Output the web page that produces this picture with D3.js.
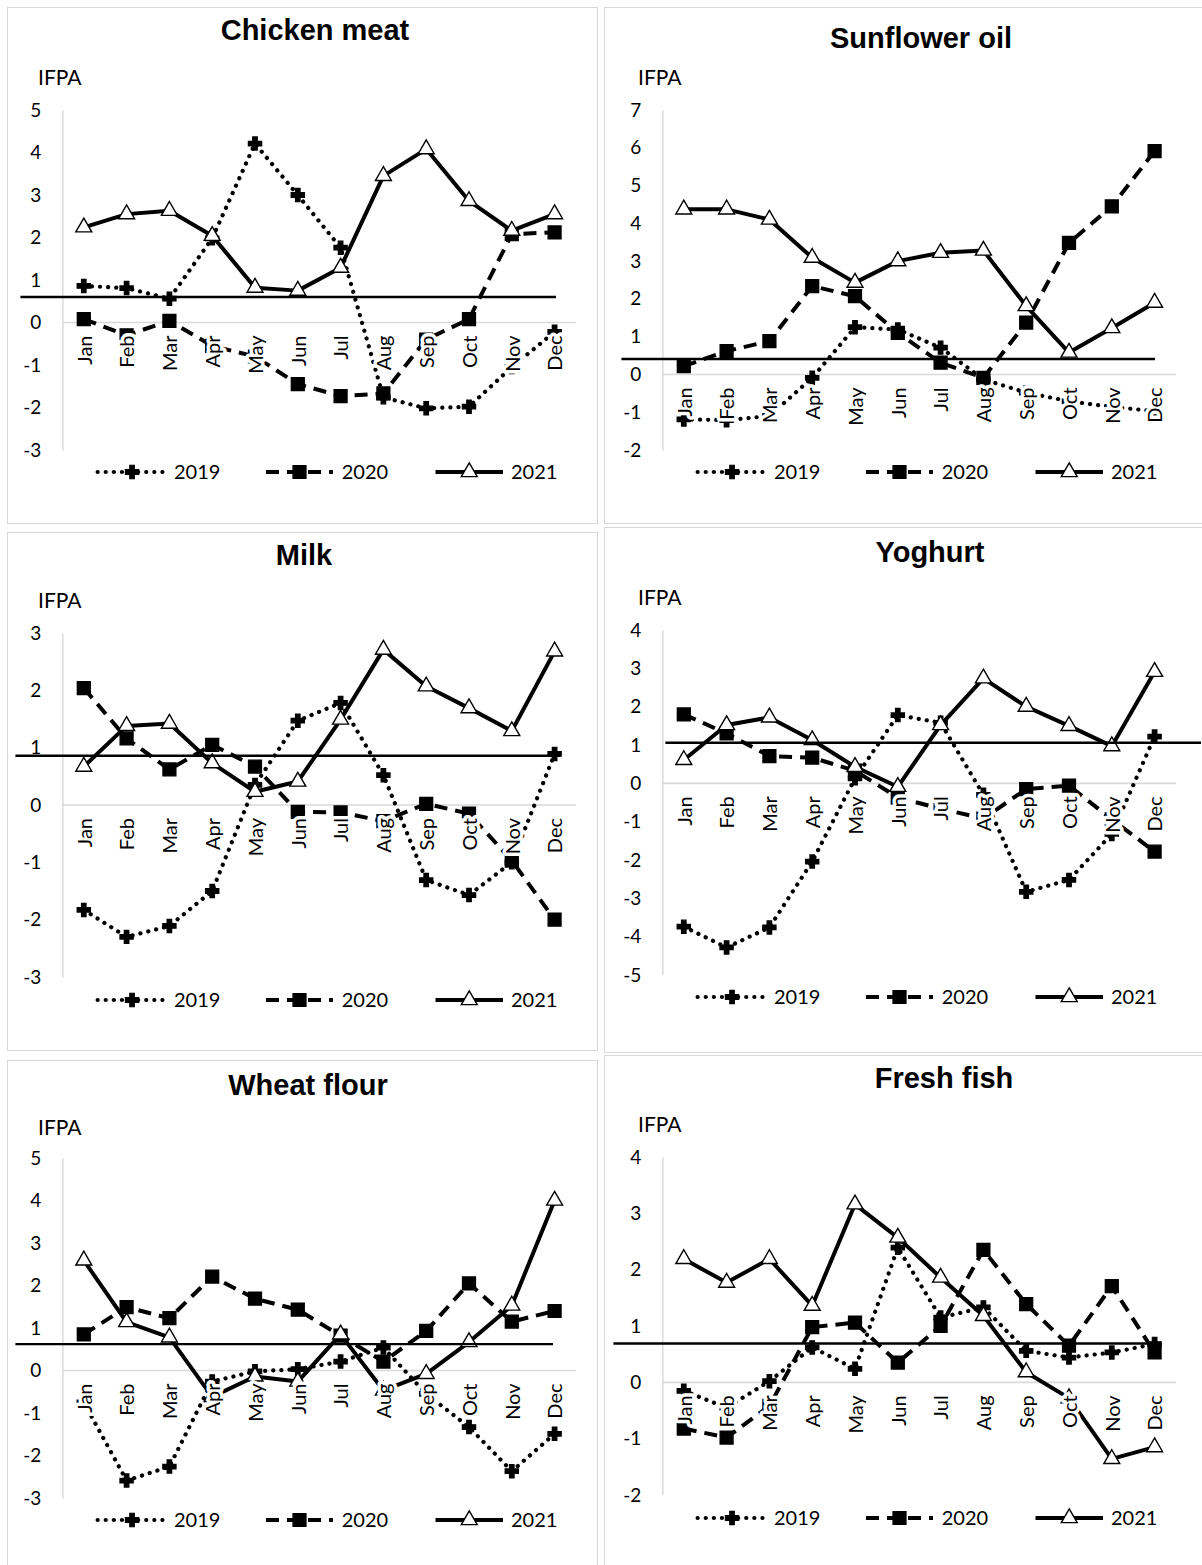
<!DOCTYPE html>
<html>
<head>
<meta charset="utf-8">
<script src="https://cdn.jsdelivr.net/npm/d3@7"></script>
<style>
  body { margin: 0; background: #fff; }
  text { font-family: Lato, "Open Sans", sans-serif; fill: #000; }
  .title { font-family: "Liberation Sans", Arial, sans-serif; font-weight: bold; font-size: 29px; }
</style>
</head>
<body>
<div class="chart"></div>
<script>
// values
const months = ["Jan", "Feb", "Mar", "Apr", "May", "Jun", "Jul", "Aug", "Sep", "Oct", "Nov", "Dec"];
const years = ["2019", "2020", "2021"];
const products = ["Chicken meat", "Sunflower oil", "Milk", "Yoghurt", "Wheat flour", "Fresh fish"];

const chicken2019 = [0.86, 0.81, 0.56, 1.98, 4.21, 3.0, 1.76, -1.76, -2.02, -1.98, -1.05, -0.22];
const chicken2020 = [0.08, -0.3, 0.04, -0.55, -0.8, -1.45, -1.73, -1.67, -0.4, 0.08, 2.08, 2.12];
const chicken2021 = [2.24, 2.55, 2.63, 2.04, 0.82, 0.75, 1.29, 3.45, 4.08, 2.86, 2.16, 2.55];

const sunflower2019 = [-1.19, -1.21, -1.1, -0.09, 1.25, 1.19, 0.71, -0.13, -0.48, -0.71, -0.86, -0.97];
const sunflower2020 = [0.22, 0.62, 0.88, 2.34, 2.07, 1.1, 0.31, -0.09, 1.37, 3.48, 4.45, 5.91];
const sunflower2021 = [4.37, 4.37, 4.1, 3.09, 2.43, 3.0, 3.22, 3.28, 1.81, 0.58, 1.23, 1.9];

const milk2019 = [-1.83, -2.3, -2.11, -1.5, 0.35, 1.47, 1.78, 0.52, -1.31, -1.57, -1.0, 0.89];
const milk2020 = [2.04, 1.16, 0.62, 1.05, 0.67, -0.12, -0.13, -0.28, 0.02, -0.15, -0.97, -2.0];
const milk2021 = [0.67, 1.38, 1.42, 0.73, 0.23, 0.41, 1.49, 2.71, 2.07, 1.69, 1.29, 2.68];

const yoghurt2019 = [-3.74, -4.28, -3.76, -2.04, 0.13, 1.78, 1.58, -0.3, -2.83, -2.52, -1.32, 1.22];
const yoghurt2020 = [1.8, 1.3, 0.71, 0.67, 0.33, -0.37, -0.66, -0.92, -0.15, -0.06, -0.94, -1.78];
const yoghurt2021 = [0.61, 1.52, 1.72, 1.13, 0.43, -0.09, 1.52, 2.74, 2.0, 1.5, 0.97, 2.91];

const flour2019 = [-0.75, -2.59, -2.26, -0.26, -0.02, 0.03, 0.21, 0.54, -0.55, -1.33, -2.37, -1.49];
const flour2020 = [0.85, 1.49, 1.23, 2.21, 1.69, 1.43, 0.82, 0.21, 0.93, 2.05, 1.15, 1.4];
const flour2021 = [2.59, 1.14, 0.78, -0.62, -0.14, -0.26, 0.85, -0.47, -0.08, 0.67, 1.53, 4.0];

const fish2019 = [-0.15, -0.45, 0.02, 0.62, 0.24, 2.39, 1.15, 1.33, 0.56, 0.44, 0.53, 0.68];
const fish2020 = [-0.82, -0.98, -0.42, 0.98, 1.06, 0.35, 1.0, 2.35, 1.39, 0.65, 1.71, 0.53];
const fish2021 = [2.19, 1.77, 2.19, 1.36, 3.16, 2.57, 1.86, 1.18, 0.18, -0.28, -1.36, -1.15];

// horizontal reference line of each panel
const thresholds = [0.6, 0.41, 0.86, 1.06, 0.62, 0.69];
const yMins = [-3, -2, -3, -5, -3, -2];
const yMaxs = [5, 7, 3, 4, 5, 4];

const series = [
   [chicken2019, chicken2020, chicken2021],
   [sunflower2019, sunflower2020, sunflower2021],
   [milk2019, milk2020, milk2021],
   [yoghurt2019, yoghurt2020, yoghurt2021],
   [flour2019, flour2020, flour2021],
   [fish2019, fish2020, fish2021]
];

// page layout (pixel boxes of each panel)
const layout = [
   { ox: 0,   box: [7, 7, 590, 516],     top: 110,  bottom: 450,  titleX: 315, titleY: 40,   ifpaY: 85,   legendY: 472,  ref: [-42, -20] },
   { ox: 600, box: [604, 7, 600, 516],   top: 110,  bottom: 450,  titleX: 921, titleY: 48,   ifpaY: 85,   legendY: 472,  ref: [-41, -21] },
   { ox: 0,   box: [7, 532, 590, 518],   top: 633,  bottom: 977,  titleX: 304, titleY: 565,  ifpaY: 608,  legendY: 1000, ref: [-47, -16] },
   { ox: 600, box: [604, 527, 600, 525], top: 630,  bottom: 975,  titleX: 930, titleY: 562,  ifpaY: 605,  legendY: 997,  ref: [3, 25] },
   { ox: 0,   box: [7, 1060, 590, 520],  top: 1158, bottom: 1498, titleX: 308, titleY: 1095, ifpaY: 1135, legendY: 1520, ref: [-47, -23] },
   { ox: 600, box: [604, 1055, 600, 520], top: 1157, bottom: 1495, titleX: 944, titleY: 1088, ifpaY: 1132, legendY: 1518, ref: [-49, -15] }
];

const plotLeft = 62.4, plotRight = 576;
const legendSlots = [[97.6, 166.5, 174], [266, 333, 341.7], [435.5, 503, 511]];

const styles = [
   { dash: "0.1 8", cap: "round", width: 4.2, symbol: d3.symbolCross, size: 95, fill: "#000", stroke: "#000" },
   { dash: "13 8", cap: "butt", width: 4, symbol: d3.symbolSquare, size: 165, fill: "#000", stroke: "#000" },
   { dash: null, cap: "butt", width: 4, symbol: d3.symbolTriangle, size: 110, fill: "#fff", stroke: "#000" }
];

var svg = d3.select(".chart").append("svg")
   .attr("width", 1202)
   .attr("height", 1565)
   .style("display", "block");

svg.append("rect")
   .attr("width", 1202)
   .attr("height", 1565)
   .attr("fill", "#fff");

products.forEach(function (name, i) {
   let L = layout[i];
   let g = svg.append("g").attr("class", "panel");

   g.append("rect")
      .attr("x", L.box[0] + 0.5)
      .attr("y", L.box[1] + 0.5)
      .attr("width", L.box[2])
      .attr("height", L.box[3])
      .attr("fill", "#fff")
      .attr("stroke", "#d9d9d9");

   let x = d3.scalePoint()
      .domain(months)
      .range([L.ox + plotLeft, L.ox + plotRight])
      .padding(0.5);

   let y = d3.scaleLinear()
      .domain([yMins[i], yMaxs[i]])
      .range([L.bottom, L.top]);

   g.append("text")
      .attr("class", "title")
      .attr("x", L.titleX)
      .attr("y", L.titleY)
      .style("text-anchor", "middle")
      .text(name);

   g.append("text")
      .attr("x", L.ox + 38)
      .attr("y", L.ifpaY)
      .style("font-size", "21px")
      .text("IFPA");

   let yAxis = d3.axisLeft(y)
      .tickValues(d3.range(yMins[i], yMaxs[i] + 1))
      .tickSize(0)
      .tickSizeOuter(0)
      .tickPadding(21)
      .tickFormat(d => String(d));

   let ya = g.append("g")
      .attr("transform", `translate(${L.ox + plotLeft},0)`)
      .call(yAxis);
   ya.select(".domain").attr("stroke", "#d9d9d9").attr("stroke-width", 1.4);
   ya.selectAll("text")
      .style("font-family", "Lato, sans-serif")
      .style("font-size", "19px")
      .attr("fill", "#000");

   // zero line
   g.append("line")
      .attr("x1", x.range()[0])
      .attr("x2", x.range()[1])
      .attr("y1", y(0))
      .attr("y2", y(0))
      .attr("stroke", "#d9d9d9")
      .attr("stroke-width", 1.6);

   let line = d3.line()
      .x((d, j) => x(months[j]))
      .y(d => y(d));

   series[i].forEach(function (vals, k) {
      let s = styles[k];
      g.append("path")
         .datum(vals)
         .attr("d", line)
         .attr("fill", "none")
         .attr("stroke", "#000")
         .attr("stroke-width", s.width)
         .attr("stroke-linecap", s.cap)
         .attr("stroke-linejoin", "round")
         .attr("stroke-dasharray", s.dash);

      g.selectAll("path.m" + k)
         .data(vals)
         .enter()
         .append("path")
         .attr("class", "m" + k)
         .attr("transform", (d, j) => `translate(${x(months[j])},${y(d)})`)
         .attr("d", d3.symbol(s.symbol, s.size))
         .attr("fill", s.fill)
         .attr("stroke", s.stroke)
         .attr("stroke-width", 1.4);
   });

   // reference line
   g.append("line")
      .attr("x1", x.range()[0] + L.ref[0])
      .attr("x2", x.range()[1] + L.ref[1])
      .attr("y1", y(thresholds[i]))
      .attr("y2", y(thresholds[i]))
      .attr("stroke", "#000")
      .attr("stroke-width", 2.4);

   // month labels sit on top of the lines
   let xAxis = d3.axisBottom(x).tickSize(0);
   let xa = g.append("g")
      .attr("transform", `translate(0,${y(0)})`)
      .call(xAxis);
   xa.select(".domain").remove();
   xa.selectAll("text")
      .attr("x", 0)
      .attr("y", 0)
      .attr("dy", "0.36em")
      .attr("transform", "translate(0,13) rotate(-90)")
      .style("text-anchor", "end")
      .style("font-family", "Lato, sans-serif")
      .style("font-size", "20px")
      .attr("fill", "#000")
      .attr("stroke", "#fff")
      .attr("stroke-width", 7)
      .attr("stroke-linejoin", "round")
      .attr("paint-order", "stroke");

   // legend
   years.forEach(function (yr, k) {
      let s = styles[k];
      let slot = legendSlots[k];
      g.append("line")
         .attr("x1", L.ox + slot[0])
         .attr("x2", L.ox + slot[1])
         .attr("y1", L.legendY)
         .attr("y2", L.legendY)
         .attr("stroke", "#000")
         .attr("stroke-width", s.width)
         .attr("stroke-linecap", s.cap)
         .attr("stroke-dasharray", s.dash);
      g.append("path")
         .attr("transform", `translate(${L.ox + (slot[0] + slot[1]) / 2},${L.legendY})`)
         .attr("d", d3.symbol(s.symbol, s.size))
         .attr("fill", s.fill)
         .attr("stroke", s.stroke)
         .attr("stroke-width", 1.4);
      g.append("text")
         .attr("x", L.ox + slot[2])
         .attr("y", L.legendY + 7)
         .style("font-size", "20px")
         .text(yr);
   });
});
</script>
</body>
</html>
